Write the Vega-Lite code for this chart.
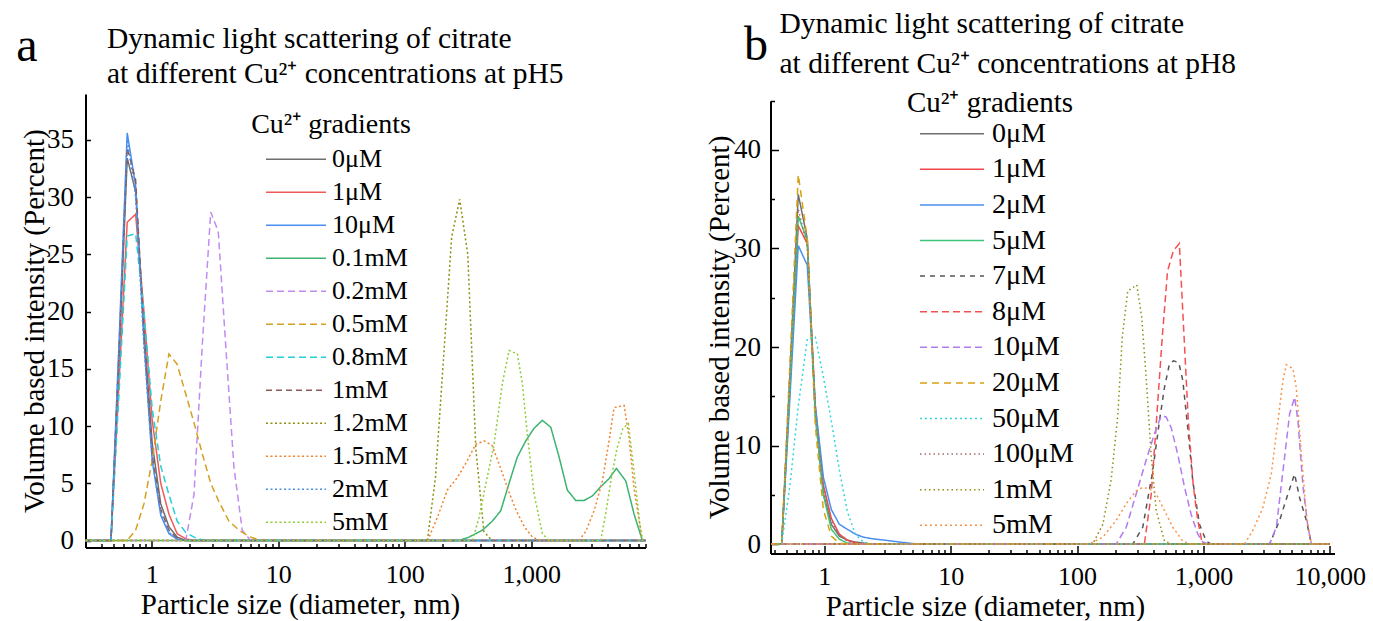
{
  "$schema": "https://vega.github.io/schema/vega-lite/v6.json",
  "padding": {"left": 15.5, "top": 8, "right": 0, "bottom": 0},
  "background": "white",
  "bounds": "flush",
  "spacing": 125,
  "config": {
    "font": "Liberation Serif",
    "view": {"stroke": null},
    "axis": {"domainColor": "black", "domainWidth": 2, "tickColor": "black", "tickWidth": 1.5, "labelColor": "black", "titleColor": "black", "grid": false, "labelFlush": false, "labelOverlap": false, "labelBound": false, "titleFontWeight": "normal", "labelFontSize": 27, "titleFontSize": 29},
    "legend": {"labelColor": "black", "titleColor": "black", "titleFontWeight": "normal", "symbolType": "stroke", "symbolStrokeWidth": 1.5, "labelLimit": 0, "padding": 0, "titleAnchor": "middle"},
    "title": {"color": "black", "fontWeight": "normal", "anchor": "start", "frame": "group", "baseline": "bottom"}
  },
  "datasets": {
    "pa": [
      {"s":"0μM","d":0.3,"v":0},{"s":"0μM","d":0.477,"v":0},{"s":"0μM","d":0.553,"v":16},{"s":"0μM","d":0.641,"v":33.4},{"s":"0μM","d":0.747,"v":30.5},{"s":"0μM","d":0.869,"v":18.5},{"s":"0μM","d":1.01,"v":8.5},{"s":"0μM","d":1.18,"v":3.2},{"s":"0μM","d":1.37,"v":1.2},{"s":"0μM","d":1.59,"v":0.3},{"s":"0μM","d":1.86,"v":0},{"s":"0μM","d":8000,"v":0},
      {"s":"1μM","d":0.3,"v":0},{"s":"1μM","d":0.477,"v":0},{"s":"1μM","d":0.553,"v":14},{"s":"1μM","d":0.641,"v":27.8},{"s":"1μM","d":0.747,"v":28.5},{"s":"1μM","d":0.869,"v":20},{"s":"1μM","d":1.01,"v":10.5},{"s":"1μM","d":1.18,"v":5},{"s":"1μM","d":1.37,"v":2.3},{"s":"1μM","d":1.59,"v":0.6},{"s":"1μM","d":1.86,"v":0.15},{"s":"1μM","d":2.16,"v":0},{"s":"1μM","d":8000,"v":0},
      {"s":"10μM","d":0.3,"v":0},{"s":"10μM","d":0.477,"v":0},{"s":"10μM","d":0.553,"v":17.5},{"s":"10μM","d":0.641,"v":35.6},{"s":"10μM","d":0.747,"v":31},{"s":"10μM","d":0.869,"v":17.5},{"s":"10μM","d":1.01,"v":7},{"s":"10μM","d":1.18,"v":2.2},{"s":"10μM","d":1.37,"v":0.6},{"s":"10μM","d":1.59,"v":0.1},{"s":"10μM","d":1.86,"v":0},{"s":"10μM","d":8000,"v":0},
      {"s":"0.1mM","d":0.3,"v":0},{"s":"0.1mM","d":269,"v":0},{"s":"0.1mM","d":322,"v":0.3},{"s":"0.1mM","d":411,"v":0.9},{"s":"0.1mM","d":493,"v":1.7},{"s":"0.1mM","d":574,"v":2.6},{"s":"0.1mM","d":668,"v":5},{"s":"0.1mM","d":777,"v":7.3},{"s":"0.1mM","d":905,"v":8.7},{"s":"0.1mM","d":1052,"v":9.8},{"s":"0.1mM","d":1224,"v":10.5},{"s":"0.1mM","d":1426,"v":9.9},{"s":"0.1mM","d":1660,"v":7.3},{"s":"0.1mM","d":1928,"v":4.4},{"s":"0.1mM","d":2250,"v":3.5},{"s":"0.1mM","d":2614,"v":3.5},{"s":"0.1mM","d":3040,"v":3.9},{"s":"0.1mM","d":3540,"v":4.7},{"s":"0.1mM","d":4120,"v":5.4},{"s":"0.1mM","d":4710,"v":6.3},{"s":"0.1mM","d":5590,"v":5.2},{"s":"0.1mM","d":6500,"v":2.3},{"s":"0.1mM","d":7560,"v":0},{"s":"0.1mM","d":8000,"v":0},
      {"s":"0.2mM","d":0.3,"v":0},{"s":"0.2mM","d":1.86,"v":0},{"s":"0.2mM","d":2.16,"v":4},{"s":"0.2mM","d":2.51,"v":17},{"s":"0.2mM","d":2.93,"v":28.7},{"s":"0.2mM","d":3.36,"v":27},{"s":"0.2mM","d":3.85,"v":17},{"s":"0.2mM","d":4.47,"v":6.4},{"s":"0.2mM","d":5.2,"v":0.9},{"s":"0.2mM","d":6.06,"v":0},{"s":"0.2mM","d":8000,"v":0},
      {"s":"0.5mM","d":0.3,"v":0},{"s":"0.5mM","d":0.641,"v":0},{"s":"0.5mM","d":0.747,"v":0.9},{"s":"0.5mM","d":0.869,"v":3.2},{"s":"0.5mM","d":1.01,"v":7},{"s":"0.5mM","d":1.18,"v":12.2},{"s":"0.5mM","d":1.37,"v":16.3},{"s":"0.5mM","d":1.59,"v":15.4},{"s":"0.5mM","d":1.86,"v":12.8},{"s":"0.5mM","d":2.16,"v":10.3},{"s":"0.5mM","d":2.51,"v":7.6},{"s":"0.5mM","d":2.93,"v":5},{"s":"0.5mM","d":3.4,"v":3.4},{"s":"0.5mM","d":4.08,"v":1.7},{"s":"0.5mM","d":4.9,"v":0.9},{"s":"0.5mM","d":5.88,"v":0.35},{"s":"0.5mM","d":7.05,"v":0.06},{"s":"0.5mM","d":8.4,"v":0},{"s":"0.5mM","d":8000,"v":0},
      {"s":"0.8mM","d":0.3,"v":0},{"s":"0.8mM","d":0.477,"v":0},{"s":"0.8mM","d":0.553,"v":13},{"s":"0.8mM","d":0.641,"v":26.6},{"s":"0.8mM","d":0.747,"v":26.8},{"s":"0.8mM","d":0.869,"v":20},{"s":"0.8mM","d":1.01,"v":11.5},{"s":"0.8mM","d":1.18,"v":6.5},{"s":"0.8mM","d":1.37,"v":4},{"s":"0.8mM","d":1.59,"v":1.7},{"s":"0.8mM","d":1.86,"v":0.7},{"s":"0.8mM","d":2.16,"v":0.3},{"s":"0.8mM","d":2.51,"v":0.05},{"s":"0.8mM","d":2.93,"v":0},{"s":"0.8mM","d":8000,"v":0},
      {"s":"1mM","d":0.3,"v":0},{"s":"1mM","d":0.477,"v":0},{"s":"1mM","d":0.553,"v":16.5},{"s":"1mM","d":0.641,"v":34.3},{"s":"1mM","d":0.747,"v":31.5},{"s":"1mM","d":0.869,"v":18},{"s":"1mM","d":1.01,"v":7.5},{"s":"1mM","d":1.18,"v":2.7},{"s":"1mM","d":1.37,"v":0.9},{"s":"1mM","d":1.59,"v":0.2},{"s":"1mM","d":1.86,"v":0},{"s":"1mM","d":8000,"v":0},
      {"s":"1.2mM","d":0.3,"v":0},{"s":"1.2mM","d":151,"v":0},{"s":"1.2mM","d":175,"v":5.5},{"s":"1.2mM","d":203,"v":16},{"s":"1.2mM","d":235,"v":26.5},{"s":"1.2mM","d":272,"v":29.8},{"s":"1.2mM","d":315,"v":25},{"s":"1.2mM","d":365,"v":8},{"s":"1.2mM","d":422,"v":0.8},{"s":"1.2mM","d":489,"v":0},{"s":"1.2mM","d":8000,"v":0},
      {"s":"1.5mM","d":0.3,"v":0},{"s":"1.5mM","d":152,"v":0},{"s":"1.5mM","d":181,"v":2},{"s":"1.5mM","d":217,"v":4.4},{"s":"1.5mM","d":261,"v":5.5},{"s":"1.5mM","d":313,"v":7},{"s":"1.5mM","d":364,"v":8.4},{"s":"1.5mM","d":424,"v":8.7},{"s":"1.5mM","d":491,"v":8.3},{"s":"1.5mM","d":569,"v":6.4},{"s":"1.5mM","d":658,"v":4.4},{"s":"1.5mM","d":762,"v":2.6},{"s":"1.5mM","d":883,"v":1.2},{"s":"1.5mM","d":1022,"v":0.3},{"s":"1.5mM","d":1183,"v":0},{"s":"1.5mM","d":2389,"v":0},{"s":"1.5mM","d":2698,"v":0.8},{"s":"1.5mM","d":3140,"v":2.6},{"s":"1.5mM","d":3650,"v":5.2},{"s":"1.5mM","d":4120,"v":8.7},{"s":"1.5mM","d":4515,"v":11.6},{"s":"1.5mM","d":5420,"v":11.8},{"s":"1.5mM","d":5930,"v":9},{"s":"1.5mM","d":6500,"v":4.5},{"s":"1.5mM","d":7560,"v":0},{"s":"1.5mM","d":8000,"v":0},
      {"s":"2mM","d":0.3,"v":0},{"s":"2mM","d":0.477,"v":0},{"s":"2mM","d":0.553,"v":17},{"s":"2mM","d":0.641,"v":35.2},{"s":"2mM","d":0.747,"v":30},{"s":"2mM","d":0.869,"v":17},{"s":"2mM","d":1.01,"v":7},{"s":"2mM","d":1.18,"v":2.4},{"s":"2mM","d":1.37,"v":0.7},{"s":"2mM","d":1.59,"v":0.15},{"s":"2mM","d":1.86,"v":0},{"s":"2mM","d":8000,"v":0},
      {"s":"5mM","d":0.3,"v":0},{"s":"5mM","d":343,"v":0},{"s":"5mM","d":387,"v":2},{"s":"5mM","d":437,"v":4.9},{"s":"5mM","d":508,"v":8.4},{"s":"5mM","d":591,"v":13.7},{"s":"5mM","d":668,"v":16.6},{"s":"5mM","d":777,"v":16.3},{"s":"5mM","d":851,"v":13.7},{"s":"5mM","d":931,"v":9.3},{"s":"5mM","d":1052,"v":4.1},{"s":"5mM","d":1224,"v":0.6},{"s":"5mM","d":1383,"v":0},{"s":"5mM","d":3542,"v":0},{"s":"5mM","d":3900,"v":2.5},{"s":"5mM","d":4300,"v":5.5},{"s":"5mM","d":4750,"v":8},{"s":"5mM","d":5300,"v":9.8},{"s":"5mM","d":5860,"v":10.2},{"s":"5mM","d":6500,"v":6},{"s":"5mM","d":7200,"v":1.5},{"s":"5mM","d":7560,"v":0},{"s":"5mM","d":8000,"v":0}
    ],
    "pb": [
      {"s":"0μM","d":0.38,"v":0},{"s":"0μM","d":0.46,"v":0},{"s":"0μM","d":0.535,"v":17.5},{"s":"0μM","d":0.622,"v":35.5},{"s":"0μM","d":0.733,"v":31},{"s":"0μM","d":0.849,"v":13},{"s":"0μM","d":0.982,"v":5.2},{"s":"0μM","d":1.136,"v":2},{"s":"0μM","d":1.315,"v":0.8},{"s":"0μM","d":1.52,"v":0.4},{"s":"0μM","d":1.76,"v":0.2},{"s":"0μM","d":2.04,"v":0.1},{"s":"0μM","d":2.36,"v":0},{"s":"0μM","d":10000,"v":0},
      {"s":"1μM","d":0.38,"v":0},{"s":"1μM","d":0.46,"v":0},{"s":"1μM","d":0.535,"v":16},{"s":"1μM","d":0.622,"v":32.3},{"s":"1μM","d":0.733,"v":30.5},{"s":"1μM","d":0.849,"v":14},{"s":"1μM","d":0.982,"v":6},{"s":"1μM","d":1.136,"v":2.6},{"s":"1μM","d":1.315,"v":1},{"s":"1μM","d":1.52,"v":0.4},{"s":"1μM","d":1.76,"v":0.1},{"s":"1μM","d":2.04,"v":0},{"s":"1μM","d":10000,"v":0},
      {"s":"2μM","d":0.38,"v":0},{"s":"2μM","d":0.46,"v":0},{"s":"2μM","d":0.535,"v":15},{"s":"2μM","d":0.622,"v":30.3},{"s":"2μM","d":0.733,"v":28.3},{"s":"2μM","d":0.849,"v":14},{"s":"2μM","d":0.982,"v":6.8},{"s":"2μM","d":1.136,"v":3.5},{"s":"2μM","d":1.315,"v":2},{"s":"2μM","d":1.52,"v":1.5},{"s":"2μM","d":1.76,"v":1},{"s":"2μM","d":2.04,"v":0.7},{"s":"2μM","d":2.36,"v":0.55},{"s":"2μM","d":2.74,"v":0.45},{"s":"2μM","d":3.2,"v":0.35},{"s":"2μM","d":3.7,"v":0.25},{"s":"2μM","d":4.3,"v":0.15},{"s":"2μM","d":5,"v":0.05},{"s":"2μM","d":5.8,"v":0},{"s":"2μM","d":10000,"v":0},
      {"s":"5μM","d":0.38,"v":0},{"s":"5μM","d":0.46,"v":0},{"s":"5μM","d":0.535,"v":16.5},{"s":"5μM","d":0.622,"v":33.3},{"s":"5μM","d":0.733,"v":30.8},{"s":"5μM","d":0.849,"v":13},{"s":"5μM","d":0.982,"v":5},{"s":"5μM","d":1.136,"v":1.5},{"s":"5μM","d":1.315,"v":0.5},{"s":"5μM","d":1.52,"v":0.1},{"s":"5μM","d":1.76,"v":0},{"s":"5μM","d":10000,"v":0},
      {"s":"7μM","d":0.38,"v":0},{"s":"7μM","d":276,"v":0},{"s":"7μM","d":331,"v":1.7},{"s":"7μM","d":397,"v":7.4},{"s":"7μM","d":449,"v":12.5},{"s":"7μM","d":492,"v":15.9},{"s":"7μM","d":539,"v":18.3},{"s":"7μM","d":580,"v":18.6},{"s":"7μM","d":639,"v":18.4},{"s":"7μM","d":687,"v":16.6},{"s":"7μM","d":752,"v":11.8},{"s":"7μM","d":824,"v":6.4},{"s":"7μM","d":931,"v":2},{"s":"7μM","d":1052,"v":0.3},{"s":"7μM","d":1153,"v":0},{"s":"7μM","d":3342,"v":0},{"s":"7μM","d":4010,"v":2.4},{"s":"7μM","d":4670,"v":5.1},{"s":"7μM","d":5270,"v":7.1},{"s":"7μM","d":5770,"v":4.7},{"s":"7μM","d":6530,"v":2.4},{"s":"7μM","d":7150,"v":0},{"s":"7μM","d":10000,"v":0},
      {"s":"8μM","d":0.38,"v":0},{"s":"8μM","d":341,"v":0},{"s":"8μM","d":386,"v":5},{"s":"8μM","d":425,"v":12.5},{"s":"8μM","d":470,"v":20.6},{"s":"8μM","d":520,"v":27.7},{"s":"8μM","d":580,"v":29.8},{"s":"8μM","d":645,"v":30.5},{"s":"8μM","d":700,"v":21.5},{"s":"8μM","d":760,"v":12.5},{"s":"8μM","d":830,"v":6},{"s":"8μM","d":900,"v":2.5},{"s":"8μM","d":970,"v":0.3},{"s":"8μM","d":1050,"v":0},{"s":"8μM","d":10000,"v":0},
      {"s":"10μM","d":0.38,"v":0},{"s":"10μM","d":204,"v":0},{"s":"10μM","d":245,"v":1.7},{"s":"10μM","d":294,"v":5.1},{"s":"10μM","d":352,"v":8.5},{"s":"10μM","d":410,"v":11.2},{"s":"10μM","d":463,"v":13},{"s":"10μM","d":507,"v":12.9},{"s":"10μM","d":556,"v":11.8},{"s":"10μM","d":627,"v":9.1},{"s":"10μM","d":708,"v":5.8},{"s":"10μM","d":800,"v":3},{"s":"10μM","d":903,"v":1},{"s":"10μM","d":989,"v":0.2},{"s":"10μM","d":1100,"v":0},{"s":"10μM","d":3342,"v":0},{"s":"10μM","d":3775,"v":1.7},{"s":"10μM","d":4260,"v":7.4},{"s":"10μM","d":4810,"v":13.2},{"s":"10μM","d":5270,"v":14.9},{"s":"10μM","d":5600,"v":12.5},{"s":"10μM","d":6140,"v":5.8},{"s":"10μM","d":6720,"v":1.7},{"s":"10μM","d":7150,"v":0},{"s":"10μM","d":10000,"v":0},
      {"s":"20μM","d":0.38,"v":0},{"s":"20μM","d":0.46,"v":0},{"s":"20μM","d":0.535,"v":18.5},{"s":"20μM","d":0.622,"v":37.5},{"s":"20μM","d":0.733,"v":31},{"s":"20μM","d":0.849,"v":12},{"s":"20μM","d":0.982,"v":3.5},{"s":"20μM","d":1.136,"v":0.8},{"s":"20μM","d":1.315,"v":0.1},{"s":"20μM","d":1.52,"v":0},{"s":"20μM","d":10000,"v":0},
      {"s":"50μM","d":0.38,"v":0},{"s":"50μM","d":0.46,"v":0},{"s":"50μM","d":0.535,"v":6},{"s":"50μM","d":0.622,"v":14},{"s":"50μM","d":0.733,"v":20.8},{"s":"50μM","d":0.849,"v":21},{"s":"50μM","d":0.982,"v":17},{"s":"50μM","d":1.136,"v":12.5},{"s":"50μM","d":1.315,"v":7.5},{"s":"50μM","d":1.52,"v":3.3},{"s":"50μM","d":1.76,"v":1},{"s":"50μM","d":2.04,"v":0.2},{"s":"50μM","d":2.36,"v":0},{"s":"50μM","d":10000,"v":0},
      {"s":"100μM","d":0.38,"v":0},{"s":"100μM","d":0.46,"v":0},{"s":"100μM","d":0.535,"v":17},{"s":"100μM","d":0.622,"v":34},{"s":"100μM","d":0.733,"v":30.2},{"s":"100μM","d":0.849,"v":13.5},{"s":"100μM","d":0.982,"v":5.8},{"s":"100μM","d":1.136,"v":2.3},{"s":"100μM","d":1.315,"v":0.9},{"s":"100μM","d":1.52,"v":0.3},{"s":"100μM","d":1.76,"v":0},{"s":"100μM","d":10000,"v":0},
      {"s":"1mM","d":0.38,"v":0},{"s":"1mM","d":133,"v":0},{"s":"1mM","d":160,"v":2},{"s":"1mM","d":186,"v":6.5},{"s":"1mM","d":210,"v":13},{"s":"1mM","d":228,"v":21},{"s":"1mM","d":252,"v":25.7},{"s":"1mM","d":297,"v":26.3},{"s":"1mM","d":325,"v":23},{"s":"1mM","d":352,"v":17},{"s":"1mM","d":386,"v":9},{"s":"1mM","d":423,"v":3.4},{"s":"1mM","d":492,"v":0.3},{"s":"1mM","d":560,"v":0},{"s":"1mM","d":10000,"v":0},
      {"s":"5mM","d":0.38,"v":0},{"s":"5mM","d":125,"v":0},{"s":"5mM","d":160,"v":0.7},{"s":"5mM","d":204,"v":2.4},{"s":"5mM","d":245,"v":4.1},{"s":"5mM","d":294,"v":5.4},{"s":"5mM","d":331,"v":5.75},{"s":"5mM","d":374,"v":5.6},{"s":"5mM","d":423,"v":5.1},{"s":"5mM","d":492,"v":3.4},{"s":"5mM","d":572,"v":1.7},{"s":"5mM","d":687,"v":0.3},{"s":"5mM","d":776,"v":0},{"s":"5mM","d":2117,"v":0},{"s":"5mM","d":2462,"v":1.4},{"s":"5mM","d":2955,"v":3.7},{"s":"5mM","d":3444,"v":7.1},{"s":"5mM","d":3890,"v":12.5},{"s":"5mM","d":4260,"v":16.6},{"s":"5mM","d":4530,"v":18.2},{"s":"5mM","d":5110,"v":17.8},{"s":"5mM","d":5430,"v":15.9},{"s":"5mM","d":5960,"v":9.1},{"s":"5mM","d":6530,"v":3},{"s":"5mM","d":7150,"v":0},{"s":"5mM","d":10000,"v":0}
    ]
  },
  "hconcat": [
    {
      "width": 560,
      "height": 453.4,
      "title": {"text": ["Dynamic light scattering of citrate", "at different Cu²⁺ concentrations at pH5"], "fontSize": 29.5, "lineHeight": 35, "dx": 21.5, "offset": -66.2},
      "layer": [
        {
          "data": {"name": "pa"},
          "mark": {"type": "line", "strokeWidth": 1.5},
          "encoding": {
            "x": {"field": "d", "type": "quantitative", "scale": {"type": "log", "domain": [0.3, 8000], "nice": false},
              "axis": {"values": [0.4,0.5,0.6,0.7,0.8,0.9,1,2,3,4,5,6,7,8,9,10,20,30,40,50,60,70,80,90,100,200,300,400,500,600,700,800,900,1000,2000,3000,4000,5000,6000,7000,8000],
                "format": ",", "labelExpr": "(datum.value == 1 || datum.value == 10 || datum.value == 100 || datum.value == 1000) ? datum.label : ''",
                "tickSize": {"condition": {"test": "datum.value == 1 || datum.value == 10 || datum.value == 100 || datum.value == 1000", "value": -8}, "value": -4},
                "labelFontSize": 26, "labelPadding": 22, "title": "Particle size (diameter, nm)", "titleX": 214.5, "titleY": 57, "titleBaseline": "middle", "titleAlign": "center"}},
            "y": {"field": "v", "type": "quantitative", "scale": {"domain": [-0.6, 39], "nice": false, "zero": false},
              "axis": {"values": [0,2.5,5,7.5,10,12.5,15,17.5,20,22.5,25,27.5,30,32.5,35,37.5], "labelExpr": "datum.value % 5 == 0 ? datum.label : ''",
                "tickSize": -5, "labelPadding": 17, "title": "Volume based intensity (Percent)", "titleX": -51.5, "titleY": 226.7, "titleBaseline": "middle", "titleAlign": "center", "titleAngle": -90}},
            "color": {"field": "s", "type": "nominal",
              "scale": {"domain": ["0μM","1μM","10μM","0.1mM","0.2mM","0.5mM","0.8mM","1mM","1.2mM","1.5mM","2mM","5mM"],
                "range": ["#6e6e6e","#f05a5a","#4a8ff0","#3cb371","#c08cf0","#d4a020","#22d0d6","#8b5a5a","#8e8e10","#f5802a","#4a90e2","#8fcc30"]},
              "legend": {"title": "Cu²⁺ gradients", "orient": "none", "legendX": 165.5, "legendY": 16.7, "symbolSize": 3600, "symbolOffset": 10, "labelOffset": 5, "labelFontSize": 26, "titleFontSize": 28, "clipHeight": 26, "rowPadding": 7, "titlePadding": 7.5}},
            "strokeDash": {"field": "s", "type": "nominal",
              "scale": {"domain": ["0μM","1μM","10μM","0.1mM","0.2mM","0.5mM","0.8mM","1mM","1.2mM","1.5mM","2mM","5mM"],
                "range": [[1,0],[1,0],[1,0],[1,0],[7,4],[7,4],[7,4],[6,4],[2,2.5],[2,2.5],[2,2.5],[2,2.5]]},
              "legend": {"title": "Cu²⁺ gradients", "orient": "none", "legendX": 165.5, "legendY": 16.7, "symbolSize": 3600, "symbolOffset": 10, "labelOffset": 5, "labelFontSize": 26, "titleFontSize": 28, "clipHeight": 26, "rowPadding": 7, "titlePadding": 7.5}}
          }
        },
        {
          "data": {"values": [{"t": "a"}]},
          "mark": {"type": "text", "fontSize": 48, "align": "center", "baseline": "middle", "color": "black"},
          "encoding": {"text": {"field": "t"}, "x": {"datum": 0.1033, "type": "quantitative"}, "y": {"datum": 43.1, "type": "quantitative"}}
        }
      ]
    },
    {
      "width": 564,
      "height": 459.4,
      "title": {"text": ["Dynamic light scattering of citrate", "at different Cu²⁺ concentrations at pH8"], "fontSize": 29.5, "lineHeight": 40, "dx": 9, "offset": -57.7},
      "layer": [
        {
          "data": {"name": "pb"},
          "mark": {"type": "line", "strokeWidth": 1.5},
          "encoding": {
            "x": {"field": "d", "type": "quantitative", "scale": {"type": "log", "domain": [0.375, 10900], "nice": false},
              "axis": {"values": [0.4,0.5,0.6,0.7,0.8,0.9,1,2,3,4,5,6,7,8,9,10,20,30,40,50,60,70,80,90,100,200,300,400,500,600,700,800,900,1000,2000,3000,4000,5000,6000,7000,8000,9000,10000],
                "format": ",", "labelExpr": "(datum.value == 1 || datum.value == 10 || datum.value == 100 || datum.value == 1000 || datum.value == 10000) ? datum.label : ''",
                "tickSize": {"condition": {"test": "datum.value == 1 || datum.value == 10 || datum.value == 100 || datum.value == 1000 || datum.value == 10000", "value": -8}, "value": -4},
                "labelFontSize": 26, "labelPadding": 18, "title": "Particle size (diameter, nm)", "titleX": 214.5, "titleY": 53, "titleBaseline": "middle", "titleAlign": "center"}},
            "y": {"field": "v", "type": "quantitative", "scale": {"domain": [-0.95, 45], "range": [459.4, 6.7], "nice": false, "zero": false},
              "axis": {"values": [0,5,10,15,20,25,30,35,40,45], "labelExpr": "datum.value % 10 == 0 ? datum.label : ''",
                "tickSize": {"condition": {"test": "datum.value % 10 == 0", "value": -8}, "value": -4},
                "labelPadding": 18, "title": "Volume based intensity (Percent)", "titleX": -51, "titleY": 233, "titleBaseline": "middle", "titleAlign": "center", "titleAngle": -90}},
            "color": {"field": "s", "type": "nominal",
              "scale": {"domain": ["0μM","1μM","2μM","5μM","7μM","8μM","10μM","20μM","50μM","100μM","1mM","5mM"],
                "range": ["#6e6e6e","#f04848","#4a8ff0","#3cc47a","#555555","#f55050","#b07cf0","#d9a010","#30d8d8","#a06e6e","#8e8e10","#f7944a"]},
              "legend": {"title": "Cu²⁺ gradients", "orient": "none", "legendX": 136.5, "legendY": -4.8, "symbolSize": 4096, "symbolOffset": 12, "labelOffset": 7, "labelFontSize": 28, "titleFontSize": 29, "clipHeight": 28, "rowPadding": 7.6, "titlePadding": 1.5}},
            "strokeDash": {"field": "s", "type": "nominal",
              "scale": {"domain": ["0μM","1μM","2μM","5μM","7μM","8μM","10μM","20μM","50μM","100μM","1mM","5mM"],
                "range": [[1,0],[1,0],[1,0],[1,0],[5,5],[7,4],[7,4],[7,5],[2,3],[1.5,3],[1.5,3],[2,3]]},
              "legend": {"title": "Cu²⁺ gradients", "orient": "none", "legendX": 136.5, "legendY": -4.8, "symbolSize": 4096, "symbolOffset": 12, "labelOffset": 7, "labelFontSize": 28, "titleFontSize": 29, "clipHeight": 28, "rowPadding": 7.6, "titlePadding": 1.5}}
          }
        },
        {
          "data": {"values": [{"t": "b"}]},
          "mark": {"type": "text", "fontSize": 48, "align": "center", "baseline": "middle", "color": "black"},
          "encoding": {"text": {"field": "t"}, "x": {"datum": 0.2875, "type": "quantitative"}, "y": {"datum": 50.6, "type": "quantitative"}}
        }
      ]
    }
  ],
  "resolve": {"scale": {"color": "independent", "strokeDash": "independent"}, "legend": {"color": "independent", "strokeDash": "independent"}}
}
